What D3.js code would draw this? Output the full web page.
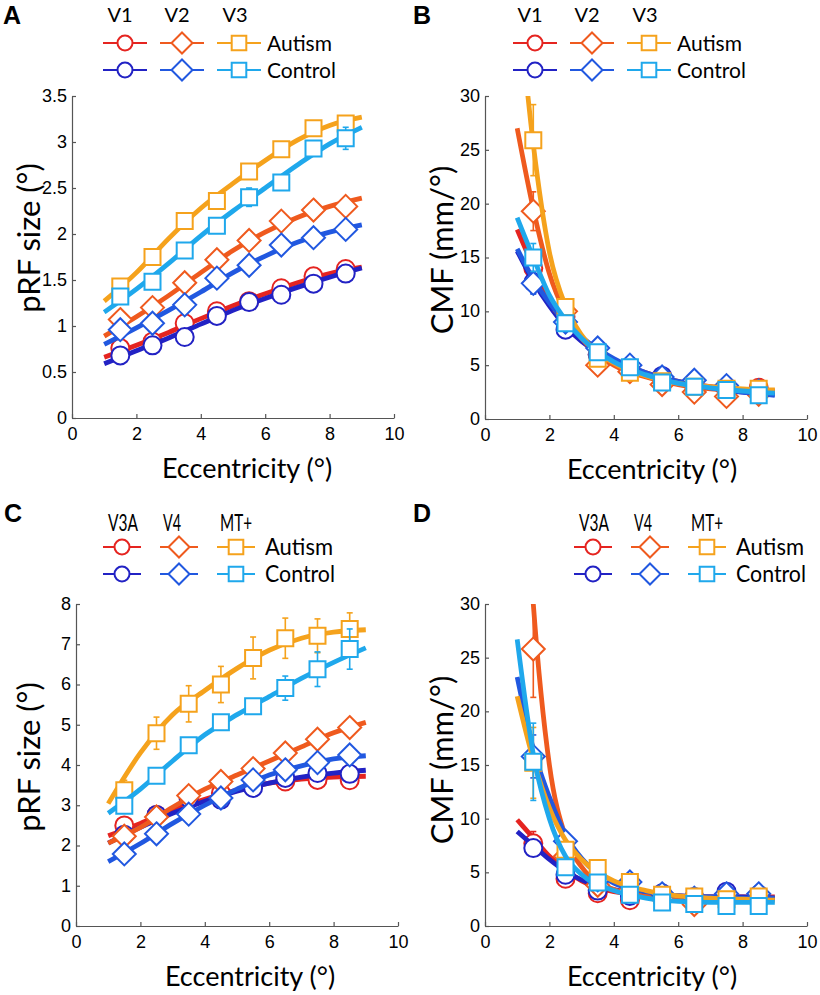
<!DOCTYPE html>
<html><head><meta charset="utf-8">
<script src="https://cdn.jsdelivr.net/npm/d3@7"></script>
<style>
body{margin:0;background:#fff;}
svg{display:block;}
</style></head>
<body><svg id="chart" width="820" height="995"></svg>
<script>
// ---------------- DATA ----------------
const ecc = [1.5, 2.5, 3.5, 4.5, 5.5, 6.5, 7.5, 8.5];
const fitEccSize = [1, 2, 3, 4, 5, 6, 7, 8, 9];
const fitEccCMF = [1, 1.5, 2, 2.5, 3, 4, 5, 6, 7, 8, 9];
const groups = ["Autism", "Control"];
const areasTop = ["V1", "V2", "V3"];
const areasBottom = ["V3A", "V4", "MT+"];
const xTicks = [0, 2, 4, 6, 8, 10];
const yTicksSizeTop = [0, 0.5, 1, 1.5, 2, 2.5, 3, 3.5];
const yTicksSizeBottom = [0, 1, 2, 3, 4, 5, 6, 7, 8];
const yTicksCMF = [0, 5, 10, 15, 20, 25, 30];

// Panel A: pRF size, V1/V2/V3
const aV1Aut = [0.76, 0.83, 1.03, 1.16, 1.27, 1.41, 1.54, 1.62];
const aV1AutErr = [0.02, 0.02, 0.02, 0.02, 0.02, 0.02, 0.02, 0.03];
const aV1AutFit = [0.66, 0.79, 0.93, 1.08, 1.22, 1.35, 1.47, 1.57, 1.64];
const aV2Aut = [1.07, 1.20, 1.47, 1.72, 1.93, 2.14, 2.26, 2.30];
const aV2AutErr = [0.02, 0.02, 0.02, 0.03, 0.03, 0.03, 0.03, 0.03];
const aV2AutFit = [0.89, 1.10, 1.33, 1.58, 1.82, 2.02, 2.18, 2.30, 2.39];
const aV3Aut = [1.43, 1.75, 2.14, 2.36, 2.68, 2.92, 3.15, 3.20];
const aV3AutErr = [0.03, 0.03, 0.05, 0.04, 0.04, 0.08, 0.04, 0.04];
const aV3AutFit = [1.27, 1.58, 1.95, 2.28, 2.55, 2.80, 3.02, 3.18, 3.27];
const aV1Ctl = [0.68, 0.79, 0.88, 1.11, 1.26, 1.34, 1.46, 1.57];
const aV1CtlErr = [0.02, 0.02, 0.02, 0.02, 0.02, 0.02, 0.02, 0.02];
const aV1CtlFit = [0.59, 0.73, 0.87, 1.02, 1.17, 1.30, 1.42, 1.53, 1.63];
const aV2Ctl = [0.96, 1.03, 1.23, 1.52, 1.66, 1.88, 1.96, 2.05];
const aV2CtlErr = [0.02, 0.02, 0.02, 0.03, 0.03, 0.03, 0.03, 0.03];
const aV2CtlFit = [0.80, 0.98, 1.17, 1.37, 1.58, 1.76, 1.91, 2.02, 2.10];
const aV3Ctl = [1.32, 1.48, 1.82, 2.09, 2.40, 2.56, 2.93, 3.04];
const aV3CtlErr = [0.03, 0.03, 0.03, 0.05, 0.10, 0.03, 0.06, 0.12];
const aV3CtlFit = [1.15, 1.40, 1.68, 1.98, 2.25, 2.50, 2.75, 2.98, 3.16];

// Panel B: CMF, V1/V2/V3
const bV1Aut = [14.0, 9.5, 6.0, 4.9, 3.8, 3.0, 2.6, 2.9];
const bV1AutErr = [1.0, 0.5, 0.4, 0.3, 0.3, 0.3, 0.3, 0.3];
const bV1AutFit = [17.6, 14.2, 11.3, 9.2, 7.6, 5.5, 4.3, 3.5, 3.0, 2.7, 2.6];
const bV2Aut = [19.3, 10.0, 5.0, 4.4, 3.2, 2.5, 2.1, 2.3];
const bV2AutErr = [1.8, 0.6, 0.4, 0.3, 0.3, 0.3, 0.3, 0.3];
const bV2AutFit = [27.0, 19.5, 13.5, 9.8, 7.5, 5.0, 3.9, 3.2, 2.8, 2.6, 2.5];
const bV3Aut = [25.9, 10.4, 5.6, 4.3, 3.5, 3.0, 2.8, 2.8];
const bV3AutErr = [3.3, 0.6, 0.4, 0.3, 0.3, 0.3, 0.3, 0.3];
const bV3AutFit = [40.0, 25.5, 15.5, 10.5, 7.8, 5.2, 4.0, 3.3, 3.0, 2.8, 2.7];
const bV1Ctl = [12.7, 8.3, 6.0, 4.8, 4.0, 3.2, 2.7, 2.6];
const bV1CtlErr = [1.0, 0.4, 0.3, 0.3, 0.3, 0.3, 0.3, 0.3];
const bV1CtlFit = [15.6, 12.8, 10.5, 8.6, 7.2, 5.4, 4.2, 3.4, 2.9, 2.5, 2.3];
const bV2Ctl = [12.6, 9.0, 6.6, 5.0, 3.9, 3.6, 3.1, 2.6];
const bV2CtlErr = [1.0, 0.4, 0.3, 0.3, 0.3, 0.3, 0.3, 0.3];
const bV2CtlFit = [15.8, 13.0, 10.8, 9.0, 7.6, 5.6, 4.3, 3.5, 2.9, 2.5, 2.2];
const bV3Ctl = [15.0, 8.9, 6.2, 4.8, 3.4, 3.0, 2.7, 2.2];
const bV3CtlErr = [1.3, 0.4, 0.3, 0.3, 0.3, 0.3, 0.3, 0.3];
const bV3CtlFit = [18.7, 15.0, 11.5, 9.2, 7.5, 5.3, 4.1, 3.3, 2.9, 2.6, 2.4];

// Panel C: pRF size, V3A/V4/MT+
const cV3AAut = [2.50, 2.76, 3.14, 3.30, 3.51, 3.59, 3.63, 3.62];
const cV3AAutErr = [0.05, 0.05, 0.05, 0.05, 0.05, 0.05, 0.05, 0.05];
const cV3AAutFit = [2.24, 2.55, 2.88, 3.15, 3.38, 3.55, 3.65, 3.70, 3.72];
const cV4Aut = [2.23, 2.71, 3.24, 3.59, 3.91, 4.30, 4.64, 4.93];
const cV4AutErr = [0.05, 0.05, 0.05, 0.05, 0.05, 0.06, 0.06, 0.06];
const cV4AutFit = [2.06, 2.45, 2.95, 3.40, 3.75, 4.10, 4.45, 4.80, 5.06];
const cMTAut = [3.37, 4.79, 5.52, 6.00, 6.66, 7.15, 7.21, 7.38];
const cMTAutErr = [0.25, 0.40, 0.45, 0.45, 0.52, 0.50, 0.42, 0.40];
const cMTAutFit = [3.04, 4.30, 5.25, 5.85, 6.40, 6.85, 7.15, 7.30, 7.36];
const cV3ACtl = [2.27, 2.76, 3.18, 3.14, 3.43, 3.68, 3.80, 3.78];
const cV3ACtlErr = [0.05, 0.05, 0.05, 0.05, 0.05, 0.05, 0.05, 0.05];
const cV3ACtlFit = [2.06, 2.45, 2.80, 3.10, 3.35, 3.55, 3.70, 3.80, 3.87];
const cV4Ctl = [1.79, 2.29, 2.78, 3.18, 3.63, 3.88, 4.06, 4.25];
const cV4CtlErr = [0.05, 0.05, 0.05, 0.05, 0.05, 0.06, 0.06, 0.06];
const cV4CtlFit = [1.60, 2.05, 2.55, 3.00, 3.40, 3.75, 3.98, 4.15, 4.23];
const cMTCtl = [2.99, 3.73, 4.49, 5.06, 5.46, 5.91, 6.38, 6.88];
const cMTCtlErr = [0.08, 0.08, 0.10, 0.10, 0.15, 0.30, 0.43, 0.50];
const cMTCtlFit = [2.80, 3.40, 4.10, 4.75, 5.25, 5.70, 6.15, 6.55, 6.91];

// Panel D: CMF, V3A/V4/MT+
const dV3AAut = [7.7, 4.4, 3.05, 2.4, 2.8, 2.5, 2.6, 2.5];
const dV3AAutErr = [1.1, 0.4, 0.3, 0.3, 0.3, 0.3, 0.3, 0.3];
const dV3AAutFit = [9.9, 8.2, 6.5, 5.2, 4.2, 3.2, 2.9, 2.8, 2.7, 2.7, 2.7];
const dV4Aut = [25.8, 6.5, 3.8, 3.3, 2.6, 2.0, 2.4, 2.5];
const dV4AutErr = [4.5, 0.6, 0.4, 0.3, 0.3, 0.3, 0.3, 0.3];
const dV4AutFit = [55.0, 30.0, 15.0, 8.3, 5.5, 3.4, 2.8, 2.6, 2.5, 2.5, 2.5];
const dMTAut = [15.2, 7.1, 5.4, 4.1, 2.9, 2.74, 2.5, 2.74];
const dMTAutErr = [3.3, 0.5, 0.4, 0.3, 0.3, 0.3, 0.3, 0.3];
const dMTAutFit = [21.4, 15.5, 11.0, 8.0, 6.2, 4.2, 3.3, 2.8, 2.6, 2.5, 2.4];
const dV3ACtl = [7.26, 4.77, 3.3, 2.8, 3.05, 2.7, 3.2, 2.9];
const dV3ACtlErr = [0.6, 0.3, 0.3, 0.3, 0.3, 0.3, 0.3, 0.3];
const dV3ACtlFit = [8.8, 7.5, 6.2, 5.1, 4.3, 3.4, 3.0, 2.8, 2.7, 2.7, 2.6];
const dV4Ctl = [15.8, 7.9, 4.3, 4.1, 3.0, 2.6, 3.0, 3.0];
const dV4CtlErr = [2.0, 0.5, 0.4, 0.3, 0.3, 0.3, 0.3, 0.3];
const dV4CtlFit = [23.2, 16.5, 12.0, 8.5, 6.3, 4.0, 3.2, 2.8, 2.7, 2.6, 2.6];
const dMTCtl = [15.3, 5.48, 4.05, 2.9, 2.18, 2.06, 1.87, 1.87];
const dMTCtlErr = [3.6, 0.4, 0.3, 0.3, 0.3, 0.3, 0.3, 0.3];
const dMTCtlFit = [26.7, 16.0, 10.0, 6.5, 4.8, 3.3, 2.6, 2.3, 2.2, 2.2, 2.2];

// ---------------- STYLE ----------------
const colors = {
  aut: ["#e52420", "#ef5a1e", "#f5a21c"],
  ctl: ["#2222c4", "#2158e0", "#1fa8ec"]
};
const shapes = ["circle", "diamond", "square"];

const svg = d3.select("#chart");

function markerPath(shape, s) {
  if (shape === "circle") return d3.arc()({innerRadius:0, outerRadius:s, startAngle:0, endAngle:2*Math.PI});
  if (shape === "diamond") return `M0,${-s}L${s},0L0,${s}L${-s},0Z`;
  return `M${-s},${-s}H${s}V${s}H${-s}Z`;
}
const markerSize = {circle: 9, diamond: 11.5, square: 8};

function drawPanel(cfg) {
  const x = d3.scaleLinear().domain([0, 10]).range([cfg.x0, cfg.x1]);
  const y = d3.scaleLinear().domain([0, cfg.yMax]).range([cfg.yBot, cfg.yTop]);
  const g = svg.append("g");
  const clipId = "clip" + cfg.letter;
  svg.append("clipPath").attr("id", clipId).append("rect")
    .attr("x", cfg.x0).attr("y", cfg.yTop).attr("width", cfg.x1 - cfg.x0).attr("height", cfg.yBot - cfg.yTop);

  // axes
  const ax = g.append("g").attr("transform", `translate(0,${cfg.yBot})`)
    .call(d3.axisBottom(x).tickValues(xTicks).tickSize(-4).tickSizeOuter(0).tickPadding(7).tickFormat(d3.format("d")));
  const ay = g.append("g").attr("transform", `translate(${cfg.x0},0)`)
    .call(d3.axisLeft(y).tickValues(cfg.yTicks).tickSize(-4).tickSizeOuter(0).tickPadding(5).tickFormat(d => String(d)));
  [ax, ay].forEach(a => {
    a.selectAll("path.domain").attr("stroke", "#555").attr("stroke-width", 1.2);
    a.selectAll(".tick line").attr("stroke", "#555").attr("stroke-width", 1.2);
    a.selectAll("text").attr("font-family", "'Liberation Sans', Arial, sans-serif").attr("font-size", 18).attr("fill", "#000");
  });
  ax.selectAll("text").attr("dy", "0.85em");
  ay.selectAll("text").attr("dy", "0.3em");

  const plot = g.append("g");
  const line = d3.line().x(d => x(d[0])).y(d => y(d[1])).curve(d3.curveMonotoneX);
  cfg.series.forEach(s => {
    const sg = plot.append("g");
    sg.append("path").attr("clip-path", `url(#${clipId})`)
      .attr("d", line(s.fitX.map((v, i) => [v, s.fit[i]])))
      .attr("fill", "none").attr("stroke", s.color).attr("stroke-width", 4.8).attr("stroke-linecap", "butt");
    const eb = sg.append("g").attr("clip-path", `url(#${clipId})`);
    ecc.forEach((e, i) => {
      const cx = x(e), lo = y(s.vals[i] - s.err[i]), hi = y(s.vals[i] + s.err[i]);
      eb.append("line").attr("x1", cx).attr("x2", cx).attr("y1", lo).attr("y2", hi).attr("stroke", s.color).attr("stroke-width", 1.6);
      [lo, hi].forEach(yy => eb.append("line").attr("x1", cx - 3).attr("x2", cx + 3).attr("y1", yy).attr("y2", yy).attr("stroke", s.color).attr("stroke-width", 1.6));
    });
    ecc.forEach((e, i) => {
      sg.append("path").attr("d", markerPath(s.shape, markerSize[s.shape]))
        .attr("transform", `translate(${x(e)},${y(s.vals[i])})`)
        .attr("fill", "#fff").attr("stroke", s.color).attr("stroke-width", 2);
    });
  });

  // axis titles
  g.append("text").attr("x", cfg.xLabelX).attr("y", cfg.yBot + 60).attr("text-anchor", "middle")
    .attr("font-family", "Lato, sans-serif").attr("font-size", 27).text("Eccentricity (°)");
  g.append("text").attr("transform", `translate(${cfg.yLabelX},${cfg.yLabelY}) rotate(-90)`).attr("text-anchor", "middle")
    .attr("font-family", "Lato, sans-serif").attr("font-size", cfg.yLabelSize).text(cfg.yLabel);
  // panel letter
  g.append("text").attr("x", cfg.letterX).attr("y", cfg.letterY).attr("font-family", "'Liberation Sans', Arial, sans-serif")
    .attr("font-weight", "bold").attr("font-size", 25).text(cfg.letter);

  // legend
  const L = cfg.legend;
  const lg = g.append("g");
  cfg.areas.forEach((a, i) => {
    const t = lg.append("text").attr("x", L.head[i]).attr("y", L.headY).attr("text-anchor", "middle")
      .attr("font-family", "Lato, sans-serif").attr("font-size", L.fs).text(a);
    if (L.headLen) t.attr("textLength", L.headLen[i]).attr("lengthAdjust", "spacingAndGlyphs");
  });
  groups.forEach((gname, gi) => {
    const yy = L.rows[gi];
    const cols = gi === 0 ? colors.aut : colors.ctl;
    L.mk.forEach((mx, i) => {
      lg.append("line").attr("x1", mx - L.half).attr("x2", mx + L.half).attr("y1", yy).attr("y2", yy)
        .attr("stroke", cols[i]).attr("stroke-width", 2.2);
      lg.append("path").attr("d", markerPath(shapes[i], L.ms[i])).attr("transform", `translate(${mx},${yy})`)
        .attr("fill", "#fff").attr("stroke", cols[i]).attr("stroke-width", 2);
    });
    const t = lg.append("text").attr("x", L.textX).attr("y", yy + 8).attr("font-family", "Lato, sans-serif")
      .attr("font-size", L.fs + 1).text(gname);
    if (L.grpLen) t.attr("textLength", L.grpLen[gi]).attr("lengthAdjust", "spacingAndGlyphs");
  });
}

function makeSeries(list, fitX) {
  // list order: [autV1, ctlV1, autV2, ctlV2, autV3, ctlV3] each [vals, err, fit]
  return list.map((d, k) => ({
    vals: d[0], err: d[1], fit: d[2], fitX: fitX,
    color: k % 2 === 0 ? colors.aut[Math.floor(k / 2)] : colors.ctl[Math.floor(k / 2)],
    shape: shapes[Math.floor(k / 2)]
  }));
}

const legTop = (dx) => ({head: [120 + dx, 177 + dx, 235 + dx], headY: 22, rows: [43, 70], mk: [125 + dx, 182 + dx, 239 + dx],
  ms: [7.5, 10.5, 7.3], half: 22, textX: 267 + dx, fs: 20});
const legBot = (dx) => ({head: [123 + dx, 172 + dx, 236 + dx], headY: 531, rows: [547, 574], mk: [122 + dx, 179 + dx, 236 + dx],
  ms: [7.5, 10.5, 7.3], half: 19, textX: 265 + dx, fs: 23, headLen: [30, 18, 32], grpLen: [68, 70]});

drawPanel({letter: "A", letterX: 3, letterY: 24, x0: 72, x1: 394, yTop: 96, yBot: 418, yMax: 3.5, yTicks: yTicksSizeTop,
  yLabel: "pRF size (°)", yLabelX: 40, yLabelY: 238, yLabelSize: 31, xLabelX: 247, areas: areasTop, legend: legTop(0),
  series: makeSeries([[aV1Aut, aV1AutErr, aV1AutFit], [aV1Ctl, aV1CtlErr, aV1CtlFit], [aV2Aut, aV2AutErr, aV2AutFit],
    [aV2Ctl, aV2CtlErr, aV2CtlFit], [aV3Aut, aV3AutErr, aV3AutFit], [aV3Ctl, aV3CtlErr, aV3CtlFit]], fitEccSize)});

drawPanel({letter: "B", letterX: 413, letterY: 24, x0: 485, x1: 807, yTop: 96, yBot: 419, yMax: 30, yTicks: yTicksCMF,
  yLabel: "CMF (mm/°)", yLabelX: 453, yLabelY: 250, yLabelSize: 31, xLabelX: 652, areas: areasTop, legend: legTop(410),
  series: makeSeries([[bV1Aut, bV1AutErr, bV1AutFit], [bV1Ctl, bV1CtlErr, bV1CtlFit], [bV2Aut, bV2AutErr, bV2AutFit],
    [bV2Ctl, bV2CtlErr, bV2CtlFit], [bV3Aut, bV3AutErr, bV3AutFit], [bV3Ctl, bV3CtlErr, bV3CtlFit]], fitEccCMF)});

drawPanel({letter: "C", letterX: 4, letterY: 522, x0: 76, x1: 398, yTop: 604, yBot: 926, yMax: 8, yTicks: yTicksSizeBottom,
  yLabel: "pRF size (°)", yLabelX: 40, yLabelY: 757, yLabelSize: 31, xLabelX: 250, areas: areasBottom, legend: legBot(0),
  series: makeSeries([[cV3AAut, cV3AAutErr, cV3AAutFit], [cV3ACtl, cV3ACtlErr, cV3ACtlFit], [cV4Aut, cV4AutErr, cV4AutFit],
    [cV4Ctl, cV4CtlErr, cV4CtlFit], [cMTAut, cMTAutErr, cMTAutFit], [cMTCtl, cMTCtlErr, cMTCtlFit]], fitEccSize)});

drawPanel({letter: "D", letterX: 413, letterY: 522, x0: 485, x1: 807, yTop: 604, yBot: 926, yMax: 30, yTicks: yTicksCMF,
  yLabel: "CMF (mm/°)", yLabelX: 453, yLabelY: 760, yLabelSize: 31, xLabelX: 652, areas: areasBottom, legend: legBot(471),
  series: makeSeries([[dV3AAut, dV3AAutErr, dV3AAutFit], [dV3ACtl, dV3ACtlErr, dV3ACtlFit], [dV4Aut, dV4AutErr, dV4AutFit],
    [dV4Ctl, dV4CtlErr, dV4CtlFit], [dMTAut, dMTAutErr, dMTAutFit], [dMTCtl, dMTCtlErr, dMTCtlFit]], fitEccCMF)});
</script>
</body></html>
